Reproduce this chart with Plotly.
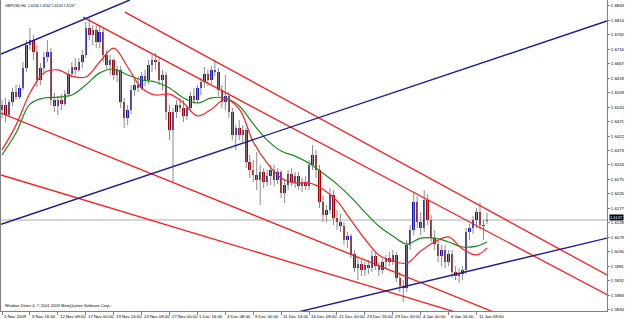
import plotly.graph_objects as go

# ---------------- data (GBPUSD, H4, merged two bars per candle) ----------------
OPEN = [1.6510, 1.6527, 1.6493, 1.6537, 1.6571, 1.6554, 1.6585, 1.6652, 1.6730, 1.6747,
        1.6707, 1.6612, 1.6652, 1.6690, 1.6707, 1.6544, 1.6524, 1.6544, 1.6530, 1.6564,
        1.6632, 1.6656, 1.6646, 1.6673, 1.6697, 1.6788, 1.6764, 1.6781, 1.6741, 1.6775,
        1.6697, 1.6663, 1.6680, 1.6629, 1.6646, 1.6537, 1.6483, 1.6510, 1.6578, 1.6595,
        1.6585, 1.6625, 1.6612, 1.6663, 1.6680, 1.6673, 1.6612, 1.6629, 1.6503, 1.6442,
        1.6503, 1.6527, 1.6517, 1.6490, 1.6517, 1.6558, 1.6544, 1.6585, 1.6605, 1.6632,
        1.6612, 1.6646, 1.6639, 1.6578, 1.6537, 1.6558, 1.6503, 1.6425, 1.6449, 1.6425,
        1.6442, 1.6334, 1.6307, 1.6290, 1.6273, 1.6300, 1.6266, 1.6286, 1.6307, 1.6273,
        1.6300, 1.6229, 1.6256, 1.6293, 1.6266, 1.6286, 1.6252, 1.6266, 1.6252, 1.6324,
        1.6358, 1.6307, 1.6198, 1.6154, 1.6171, 1.6222, 1.6144, 1.6130, 1.6117, 1.6069,
        1.6083, 1.6022, 1.5974, 1.5988, 1.5968, 1.5985, 1.5974, 1.6015, 1.5981, 1.5968,
        1.5995, 1.6008, 1.5995, 1.6019, 1.5941, 1.5913, 1.5907, 1.6052, 1.6103, 1.6198,
        1.6130, 1.6110, 1.6205, 1.6137, 1.6076, 1.6056, 1.6015, 1.6036, 1.5995, 1.6022,
        1.5961, 1.5947, 1.5954, 1.5968, 1.6097, 1.6110, 1.6137, 1.6164, 1.6120, 1.6134]
HIGH = [1.6544, 1.6551, 1.6544, 1.6585, 1.6595, 1.6595, 1.6673, 1.6747, 1.6788, 1.6764,
        1.6730, 1.6669, 1.6707, 1.6747, 1.6720, 1.6568, 1.6558, 1.6564, 1.6578, 1.6646,
        1.6673, 1.6686, 1.6686, 1.6713, 1.6808, 1.6825, 1.6798, 1.6798, 1.6798, 1.6788,
        1.6713, 1.6697, 1.6686, 1.6659, 1.6659, 1.6551, 1.6527, 1.6595, 1.6612, 1.6625,
        1.6639, 1.6646, 1.6680, 1.6697, 1.6703, 1.6690, 1.6646, 1.6639, 1.6527, 1.6517,
        1.6544, 1.6551, 1.6544, 1.6527, 1.6571, 1.6585, 1.6595, 1.6619, 1.6656, 1.6646,
        1.6659, 1.6680, 1.6652, 1.6595, 1.6629, 1.6571, 1.6517, 1.6459, 1.6476, 1.6459,
        1.6449, 1.6358, 1.6341, 1.6368, 1.6324, 1.6313, 1.6307, 1.6324, 1.6324, 1.6313,
        1.6307, 1.6273, 1.6307, 1.6313, 1.6300, 1.6300, 1.6280, 1.6286, 1.6341, 1.6391,
        1.6374, 1.6324, 1.6219, 1.6188, 1.6246, 1.6239, 1.6171, 1.6158, 1.6130, 1.6097,
        1.6090, 1.6036, 1.6008, 1.6002, 1.5995, 1.6002, 1.6036, 1.6029, 1.5995, 1.6008,
        1.6019, 1.6029, 1.6036, 1.6029, 1.5961, 1.5934, 1.6069, 1.6120, 1.6229, 1.6219,
        1.6164, 1.6239, 1.6225, 1.6154, 1.6103, 1.6069, 1.6052, 1.6052, 1.6036, 1.6036,
        1.5981, 1.5974, 1.5981, 1.6110, 1.6124, 1.6151, 1.6178, 1.6195, 1.6137, 1.6162]
LOW = [1.6483, 1.6469, 1.6486, 1.6524, 1.6544, 1.6547, 1.6578, 1.6639, 1.6713, 1.6680,
       1.6588, 1.6595, 1.6639, 1.6673, 1.6527, 1.6503, 1.6493, 1.6510, 1.6524, 1.6558,
       1.6619, 1.6629, 1.6639, 1.6652, 1.6686, 1.6747, 1.6730, 1.6720, 1.6720, 1.6673,
       1.6646, 1.6629, 1.6612, 1.6605, 1.6517, 1.6449, 1.6459, 1.6497, 1.6558, 1.6571,
       1.6578, 1.6591, 1.6598, 1.6639, 1.6646, 1.6595, 1.6578, 1.6476, 1.6408, 1.6266,
       1.6483, 1.6503, 1.6469, 1.6476, 1.6503, 1.6530, 1.6534, 1.6561, 1.6585, 1.6591,
       1.6598, 1.6625, 1.6558, 1.6517, 1.6510, 1.6483, 1.6408, 1.6374, 1.6408, 1.6402,
       1.6313, 1.6280, 1.6266, 1.6239, 1.6188, 1.6246, 1.6252, 1.6256, 1.6252, 1.6259,
       1.6212, 1.6195, 1.6239, 1.6252, 1.6246, 1.6239, 1.6232, 1.6239, 1.6239, 1.6307,
       1.6280, 1.6178, 1.6130, 1.6130, 1.6158, 1.6120, 1.6103, 1.6097, 1.6052, 1.6042,
       1.6008, 1.5961, 1.5934, 1.5947, 1.5947, 1.5954, 1.5961, 1.5968, 1.5947, 1.5954,
       1.5974, 1.5981, 1.5985, 1.5927, 1.5893, 1.5859, 1.5893, 1.6036, 1.6086, 1.6110,
       1.6086, 1.6097, 1.6120, 1.6063, 1.6036, 1.5995, 1.5981, 1.5974, 1.5981, 1.5941,
       1.5934, 1.5924, 1.5934, 1.5954, 1.6069, 1.6090, 1.6110, 1.6103, 1.6069, 1.6124]
CLOSE = [1.6527, 1.6493, 1.6537, 1.6571, 1.6554, 1.6585, 1.6652, 1.6730, 1.6747, 1.6707,
         1.6612, 1.6652, 1.6690, 1.6707, 1.6544, 1.6524, 1.6544, 1.6530, 1.6564, 1.6632,
         1.6656, 1.6646, 1.6673, 1.6697, 1.6788, 1.6764, 1.6781, 1.6741, 1.6775, 1.6697,
         1.6663, 1.6680, 1.6629, 1.6646, 1.6537, 1.6483, 1.6510, 1.6578, 1.6595, 1.6585,
         1.6625, 1.6612, 1.6663, 1.6680, 1.6673, 1.6612, 1.6629, 1.6503, 1.6442, 1.6503,
         1.6527, 1.6517, 1.6490, 1.6517, 1.6558, 1.6544, 1.6585, 1.6605, 1.6632, 1.6612,
         1.6646, 1.6639, 1.6578, 1.6537, 1.6558, 1.6503, 1.6425, 1.6449, 1.6425, 1.6442,
         1.6334, 1.6307, 1.6290, 1.6273, 1.6300, 1.6266, 1.6286, 1.6307, 1.6273, 1.6300,
         1.6229, 1.6256, 1.6293, 1.6266, 1.6286, 1.6252, 1.6266, 1.6252, 1.6324, 1.6358,
         1.6307, 1.6198, 1.6154, 1.6171, 1.6222, 1.6144, 1.6130, 1.6117, 1.6069, 1.6083,
         1.6022, 1.5974, 1.5988, 1.5968, 1.5985, 1.5974, 1.6015, 1.5981, 1.5968, 1.5995,
         1.6008, 1.5995, 1.6019, 1.5941, 1.5913, 1.5907, 1.6052, 1.6103, 1.6198, 1.6130,
         1.6110, 1.6205, 1.6137, 1.6076, 1.6056, 1.6015, 1.6036, 1.5995, 1.6022, 1.5961,
         1.5947, 1.5954, 1.5968, 1.6097, 1.6110, 1.6137, 1.6164, 1.6120, 1.6118, 1.6137]

MA_BARS = [0, 4, 8, 12, 16, 20, 24, 28, 32, 36, 40, 44, 48, 52, 56, 60, 64, 68,
           72, 76, 80, 84, 88, 92, 96, 100, 104, 108, 112, 116, 120, 124, 128, 132, 136, 139]
MA_FAST = [1.6375, 1.6459, 1.6568, 1.6636, 1.6646, 1.6625, 1.6622, 1.6673, 1.6720, 1.6656,
           1.6585, 1.6561, 1.6564, 1.6534, 1.6490, 1.6513, 1.6547, 1.6513, 1.6402, 1.6330,
           1.6280, 1.6263, 1.6263, 1.6242, 1.6202, 1.6137, 1.6073, 1.6019, 1.5998, 1.5991,
           1.6032, 1.6063, 1.6080, 1.6039, 1.6019, 1.6042]
MA_SLOW = [1.6358, 1.6432, 1.6530, 1.6551, 1.6554, 1.6561, 1.6595, 1.6636, 1.6649, 1.6629,
           1.6612, 1.6605, 1.6585, 1.6551, 1.6534, 1.6551, 1.6551, 1.6524, 1.6463, 1.6408,
           1.6371, 1.6354, 1.6330, 1.6296, 1.6259, 1.6215, 1.6164, 1.6117, 1.6083, 1.6056,
           1.6076, 1.6076, 1.6063, 1.6046, 1.6049, 1.6063]

# trend lines: (start bar, start price, end bar, end price)
RED_LINES = [(35.2, 1.6842, 173.4, 1.5951),
             (23.2, 1.6825, 173.4, 1.5884),
             (-0.3, 1.6500, 141.0, 1.5825),
             (-0.3, 1.6290, 130.1, 1.5825)]
BLUE_LINES = [(-0.3, 1.6700, 36.6, 1.6883),
              (-0.3, 1.6123, 173.4, 1.6812),
              (80.0, 1.5812, 173.4, 1.6076)]

BID = 1.6137
TITLE = "GBPUSD,H4  1.6134 1.6162 1.6124 1.6137"
COPYRIGHT = "Windsor Direct 4, \u00a9 2001-2009 MetaQuotes Software Corp."
TIME_LABELS = ["5 Nov 2009", "9 Nov 16:00", "12 Nov 08:00", "17 Nov 00:00", "19 Nov 16:00",
               "24 Nov 08:00", "27 Nov 00:00", "1 Dec 16:00", "4 Dec 08:00", "9 Dec 00:00",
               "11 Dec 16:00", "16 Dec 08:00", "21 Dec 00:00", "23 Dec 16:00", "29 Dec 00:00",
               "4 Jan 00:00", "6 Jan 16:00", "11 Jan 08:00"]
TIME_LABEL_BARS = [0, 8, 16, 24, 32, 40, 48, 56, 64, 72, 80, 88, 96, 104, 112, 120, 128, 136]
PRICE_TICKS = [1.6863, 1.6814, 1.6765, 1.6716, 1.6667, 1.6618, 1.6569, 1.6520, 1.6471, 1.6422,
               1.6373, 1.6324, 1.6275, 1.6226, 1.6177, 1.6128, 1.6079, 1.6030, 1.5981, 1.5932,
               1.5883, 1.5834]

# ---------------- figure ----------------
FONT = "Liberation Sans"
fig = go.Figure()

wx, wy = [], []
for i, (h, l) in enumerate(zip(HIGH, LOW)):
    wx += [i, i, None]
    wy += [l, h, None]
fig.add_trace(go.Scatter(x=wx, y=wy, mode="lines", line=dict(color="#8c8c8c", width=1),
                         hoverinfo="skip", showlegend=False))

bull = [i for i in range(len(CLOSE)) if CLOSE[i] >= OPEN[i]]
bear = [i for i in range(len(CLOSE)) if CLOSE[i] < OPEN[i]]
for idx, col in ((bull, "#1414c0"), (bear, "#a00000")):
    fig.add_trace(go.Bar(x=idx, base=[OPEN[i] for i in idx],
                         y=[CLOSE[i] - OPEN[i] for i in idx],
                         width=0.72, marker=dict(color=col, line=dict(width=0)),
                         showlegend=False, hoverinfo="skip"))

fig.add_trace(go.Scatter(x=MA_BARS, y=MA_SLOW, mode="lines", line=dict(color="#1a8a1a", width=1.2, shape="spline"),
                         showlegend=False))
fig.add_trace(go.Scatter(x=MA_BARS, y=MA_FAST, mode="lines", line=dict(color="#ff2020", width=1.2, shape="spline"),
                         showlegend=False))

for (x0, y0, x1, y1) in RED_LINES:
    fig.add_trace(go.Scatter(x=[x0, x1], y=[y0, y1], mode="lines",
                             line=dict(color="#ff1a1a", width=1.3), showlegend=False))
for (x0, y0, x1, y1) in BLUE_LINES:
    fig.add_trace(go.Scatter(x=[x0, x1], y=[y0, y1], mode="lines",
                             line=dict(color="#1a1a9a", width=1.4), showlegend=False))

fig.add_shape(type="line", xref="paper", x0=0, x1=1, yref="y", y0=BID, y1=BID,
              line=dict(color="#c8c8c8", width=1.5), layer="below")

annotations = []
for b, t in zip(TIME_LABEL_BARS, TIME_LABELS):
    annotations.append(dict(x=b, xref="x", y=0, yref="paper", text=t, showarrow=False,
                            xanchor="left", yanchor="top", xshift=0, yshift=-1,
                            font=dict(family=FONT, size=4.3, color="black")))
annotations.append(dict(x=0, xref="paper", y=1, yref="paper", text=TITLE, showarrow=False,
                        xanchor="left", yanchor="top", xshift=2, yshift=-2,
                        font=dict(family=FONT, size=3.6, color="black")))
annotations.append(dict(x=0, xref="paper", y=0, yref="paper", text=COPYRIGHT, showarrow=False,
                        xanchor="left", yanchor="bottom", xshift=2, yshift=1,
                        font=dict(family=FONT, size=4.0, color="black")))
annotations.append(dict(x=1, xref="paper", y=BID, yref="y", text=f"{BID:.4f}", showarrow=False,
                        xanchor="left", yanchor="bottom", xshift=2, yshift=-0.5,
                        bgcolor="black", borderpad=0,
                        font=dict(family=FONT, size=4.0, color="white")))

fig.update_layout(
    width=625, height=319, margin=dict(l=1, r=18, t=0, b=8),
    paper_bgcolor="white", plot_bgcolor="white", barmode="overlay", bargap=0,
    showlegend=False, annotations=annotations,
    xaxis=dict(range=[-0.3, 173.4], showgrid=False, zeroline=False, showline=True,
               linecolor="#808080", linewidth=1, tickvals=TIME_LABEL_BARS, ticks="outside",
               ticklen=3, tickcolor="#808080", showticklabels=False, fixedrange=True),
    yaxis=dict(range=[1.5829, 1.6883], side="right", showgrid=False, zeroline=False,
               showline=True, mirror=True, linecolor="#808080", linewidth=1,
               tickvals=PRICE_TICKS, ticktext=[f"{v:.4f}" for v in PRICE_TICKS],
               ticks="outside", ticklen=2, tickcolor="#808080",
               tickfont=dict(family=FONT, size=4.3, color="black")),
)

fig.write_html("out.html")
